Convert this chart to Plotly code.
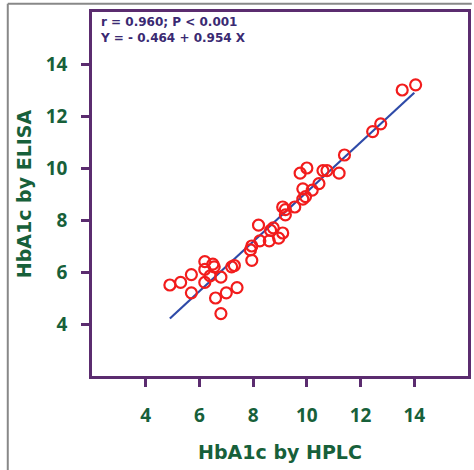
import plotly.graph_objects as go

hplc = [4.9, 5.3, 5.7, 5.7, 6.2, 6.2, 6.2, 6.4, 6.5, 6.55, 6.8, 6.6, 6.8, 7.0, 7.2, 7.3, 7.4,
        7.9, 7.95, 7.95, 8.2, 8.25, 8.6, 8.65, 8.75, 8.95, 9.1, 9.1, 9.2, 9.2, 9.55, 9.75,
        10.0, 9.85, 9.85, 9.95, 10.2, 10.45, 10.6, 10.75, 11.2, 11.4, 12.45, 12.75, 13.55, 14.05]
elisa = [5.5, 5.6, 5.9, 5.2, 6.4, 6.1, 5.6, 5.85, 6.3, 6.2, 5.8, 5.0, 4.4, 5.2, 6.2, 6.25, 5.4,
         6.85, 7.0, 6.45, 7.8, 7.2, 7.2, 7.6, 7.7, 7.3, 7.5, 8.5, 8.2, 8.4, 8.5, 9.8,
         10.0, 9.2, 8.8, 8.9, 9.15, 9.4, 9.9, 9.9, 9.8, 10.5, 11.4, 11.7, 13.0, 13.2]

intercept = -0.464
slope = 0.954
line_x = [4.9, 14.0]
line_y = [intercept + slope * v for v in line_x]

ticks = [4, 6, 8, 10, 12, 14]
axis_color = "#5b2c6f"
green = "#17603a"
font_family = "Open Sans, DejaVu Sans, sans-serif"
title_family = "DejaVu Sans, sans-serif"

fig = go.Figure()
fig.add_trace(go.Scatter(x=line_x, y=line_y, mode="lines",
                         line=dict(color="#2e4aa8", width=2.2), hoverinfo="skip"))
fig.add_trace(go.Scatter(x=hplc, y=elisa, mode="markers",
                         marker=dict(symbol="circle-open", size=11, color="#f21c1c",
                                     line=dict(width=2.2, color="#f21c1c"))))

axis_common = dict(range=[2, 16], tickvals=ticks, showline=True, linecolor=axis_color,
                   linewidth=2.5, mirror=True, ticks="outside", ticklen=8, tickwidth=2.5,
                   tickcolor=axis_color, showgrid=False, zeroline=False,
                   tickfont=dict(family=font_family, size=19, color=green, weight="bold"))

fig.update_layout(
    width=474, height=470,
    margin=dict(l=92, r=3, t=12, b=94),
    paper_bgcolor="white", plot_bgcolor="white",
    showlegend=False,
    xaxis=dict(**axis_common, ticklabelstandoff=12,
               title=dict(text="HbA1c by HPLC", standoff=20,
                          font=dict(family=title_family, size=19, color=green, weight="bold"))),
    yaxis=dict(**axis_common, ticklabelstandoff=10,
               title=dict(text="HbA1c by ELISA", standoff=10,
                          font=dict(family=title_family, size=19, color=green, weight="bold"))),
    annotations=[
        dict(text="r = 0.960; P < 0.001<br>Y = - 0.464 + 0.954 X", xref="paper", yref="paper",
             x=0.015, y=0.997, xanchor="left", yanchor="top", showarrow=False, align="left",
             font=dict(family=title_family, size=12, color="#3a2a72", weight="bold")),
    ],
    shapes=[
        dict(type="line", xref="paper", yref="paper", x0=-0.224, x1=1.01, y0=1.0225, y1=1.0225,
             line=dict(color="#888888", width=2)),
        dict(type="line", xref="paper", yref="paper", x0=-0.224, x1=-0.224, y0=1.0225, y1=-0.26,
             line=dict(color="#888888", width=2)),
    ],
)

fig.write_html("out.html")
